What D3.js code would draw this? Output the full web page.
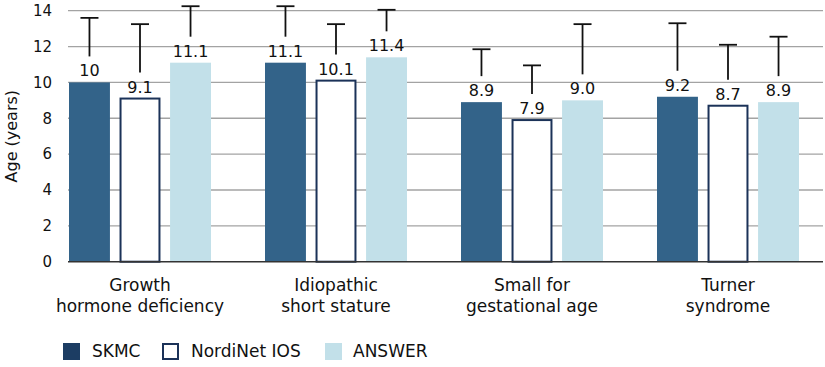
<!DOCTYPE html>
<html lang="en">
<head>
    <meta charset="UTF-8">
    <title>Age at treatment start by indication</title>
    <script src="https://d3js.org/d3.v7.min.js"></script>
    <style>
        body { margin: 0; background: #fff; }
        text { font-family: "DejaVu Sans", sans-serif; fill: #111; }
    </style>
</head>
<body>
    <svg width="825" height="367"></svg>
    <script>
        const width = 825, height = 367;

        // Data
        const categories = [
            ["Growth", "hormone deficiency"],
            ["Idiopathic", "short stature"],
            ["Small for", "gestational age"],
            ["Turner", "syndrome"]
        ];
        const seriesNames = ["SKMC", "NordiNet IOS", "ANSWER"];
        const skmc = [10, 11.1, 8.9, 9.2];
        const nordinet = [9.1, 10.1, 7.9, 8.7];
        const answer = [11.1, 11.4, 9.0, 8.9];
        const valueLabels = [
            ["10", "11.1", "8.9", "9.2"],
            ["9.1", "10.1", "7.9", "8.7"],
            ["11.1", "11.4", "9.0", "8.9"]
        ];
        // upper end of the error bars
        const skmcUpper = [13.6, 14.25, 11.85, 13.3];
        const nordinetUpper = [13.25, 13.25, 10.95, 12.1];
        const answerUpper = [14.25, 14.05, 13.25, 12.55];
        const yTicks = [0, 2, 4, 6, 8, 10, 12, 14];

        const series = [skmc, nordinet, answer];
        const uppers = [skmcUpper, nordinetUpper, answerUpper];
        const fills = ["#336389", "#ffffff", "#c2e0e9"];
        const strokes = ["none", "#1b3258", "none"];
        const legendFills = ["#1c3d63", "#ffffff", "#c2e0e9"];

        const svg = d3.select("svg");

        const plotLeft = 68, plotRight = 823;
        const y = d3.scaleLinear().domain([0, 14]).range([261.7, 10.7]);

        const x0 = d3.scaleBand()
            .domain(d3.range(categories.length))
            .range([42, 826]);
        const x1 = d3.scaleBand()
            .domain(d3.range(series.length))
            .range([0, 142])
            .paddingInner(0.19);
        const groupOffset = (x0.bandwidth() - 142) / 2;

        // gridlines
        svg.append("g")
            .selectAll("line")
            .data(yTicks.filter(d => d > 0))
            .join("line")
            .attr("x1", plotLeft)
            .attr("x2", plotRight)
            .attr("y1", d => y(d))
            .attr("y2", d => y(d))
            .attr("stroke", "#a3a3a3")
            .attr("stroke-width", 1.3);

        // y axis labels
        svg.append("g")
            .selectAll("text")
            .data(yTicks)
            .join("text")
            .attr("x", 52)
            .attr("y", d => y(d))
            .attr("dy", "0.35em")
            .attr("text-anchor", "end")
            .attr("font-size", 15)
            .text(d => d);

        svg.append("text")
            .attr("transform", "translate(17," + y(7) + ") rotate(-90)")
            .attr("text-anchor", "middle")
            .attr("font-size", 16)
            .text("Age (years)");

        // bars
        const groups = svg.append("g")
            .selectAll("g")
            .data(categories)
            .join("g")
            .attr("transform", (d, i) => "translate(" + (x0(i) + groupOffset) + ",0)");

        groups.each(function(cat, ci) {
            const g = d3.select(this);
            series.forEach((vals, si) => {
                const bx = x1(si);
                const bw = x1.bandwidth();
                const v = vals[ci];
                const hasStroke = strokes[si] !== "none";
                g.append("rect")
                    .attr("x", hasStroke ? bx + 1 : bx)
                    .attr("y", y(v))
                    .attr("width", hasStroke ? bw - 2 : bw)
                    .attr("height", y(0) - y(v))
                    .attr("fill", fills[si])
                    .attr("stroke", strokes[si])
                    .attr("stroke-width", 2);

                // value label
                g.append("text")
                    .attr("x", bx + bw / 2)
                    .attr("y", y(v) - 6)
                    .attr("text-anchor", "middle")
                    .attr("font-size", 16)
                    .text(valueLabels[si][ci]);

                // error bar (drawn above label)
                const cx = bx + bw / 2;
                const top = y(uppers[si][ci]);
                g.append("line")
                    .attr("x1", cx).attr("x2", cx)
                    .attr("y1", y(v) - 26)
                    .attr("y2", top)
                    .attr("stroke", "#111")
                    .attr("stroke-width", 1.8);
                g.append("line")
                    .attr("x1", cx - 9).attr("x2", cx + 9)
                    .attr("y1", top).attr("y2", top)
                    .attr("stroke", "#111")
                    .attr("stroke-width", 1.8);
            });
        });

        // baseline
        svg.append("line")
            .attr("x1", plotLeft)
            .attr("x2", plotRight)
            .attr("y1", y(0))
            .attr("y2", y(0))
            .attr("stroke", "#333")
            .attr("stroke-width", 1.5);

        // category labels
        svg.append("g")
            .selectAll("text")
            .data(categories)
            .join("text")
            .attr("x", (d, i) => x0(i) + x0.bandwidth() / 2)
            .attr("y", 291)
            .attr("text-anchor", "middle")
            .attr("font-size", 17)
            .selectAll("tspan")
            .data(d => d)
            .join("tspan")
            .attr("x", function() { return d3.select(this.parentNode).attr("x"); })
            .attr("dy", (d, i) => i === 0 ? 0 : 21)
            .text(d => d);

        // legend
        const legendX = [63, 162, 325];
        const legend = svg.append("g")
            .selectAll("g")
            .data(seriesNames)
            .join("g")
            .attr("transform", (d, i) => "translate(" + legendX[i] + ",343)");
        legend.append("rect")
            .attr("x", (d, i) => i === 1 ? 1 : 0)
            .attr("y", (d, i) => i === 1 ? 1 : 0)
            .attr("width", (d, i) => i === 1 ? 15 : 17)
            .attr("height", (d, i) => i === 1 ? 15 : 17)
            .attr("fill", (d, i) => legendFills[i])
            .attr("stroke", (d, i) => strokes[i])
            .attr("stroke-width", 2);
        legend.append("text")
            .attr("x", (d, i) => i === 2 ? 28 : 29)
            .attr("y", 8.5)
            .attr("dy", "0.35em")
            .attr("font-size", 17)
            .text(d => d);
    </script>
</body>
</html>
